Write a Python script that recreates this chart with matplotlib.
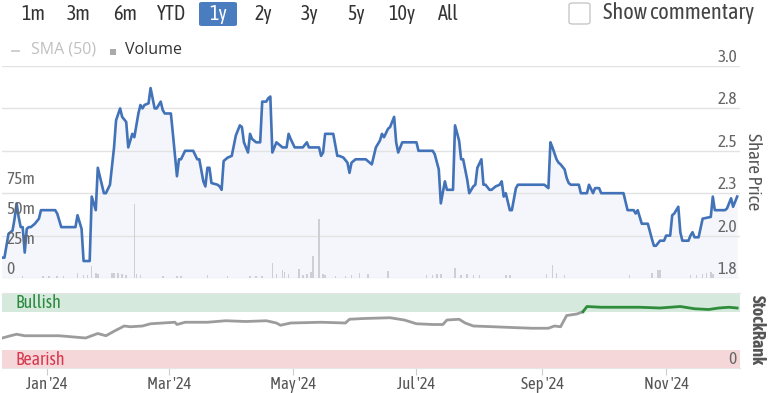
import numpy as np
import matplotlib
matplotlib.use('Agg')
import matplotlib.pyplot as plt
import matplotlib.dates as mdates
from matplotlib.patches import FancyBboxPatch, Rectangle
from matplotlib.lines import Line2D

plt.rcParams['font.family'] = ['Asap Condensed', 'DejaVu Sans']

BASE = np.datetime64('2024-01-01')

# ---- data (day offsets from 2024-01-01) ----
price_days = [-23, -21, -19, -17, -16, -15, -14, -13, -12, -11, -10, -9, -8, -6, -4, -3, 4, 5, 7, 14,
              15, 17, 18, 21, 22, 24, 25, 26, 28, 29, 31, 33, 34, 36, 37, 39, 40, 42, 43, 45,
              46, 47, 48, 50, 51, 53, 54, 56, 57, 58, 61, 62, 64, 65, 66, 68, 72, 74, 75, 77,
              78, 79, 80, 81, 84, 85, 86, 87, 89, 91, 93, 95, 96, 97, 99, 100, 101, 103, 105, 106,
              108, 109, 110, 111, 112, 113, 115, 116, 118, 119, 120, 122, 126, 128, 129, 134, 135, 136, 137, 141,
              143, 144, 146, 148, 149, 150, 152, 157, 159, 160, 162, 164, 165, 166, 168, 169, 171, 172, 173, 175,
              182, 183, 190, 191, 193, 194, 196, 197, 200, 201, 203, 204, 205, 207, 208, 210, 211, 212, 214, 215,
              216, 218, 219, 221, 223, 224, 225, 226, 227, 228, 229, 231, 232, 245, 247, 248, 249, 251, 252, 253,
              255, 256, 257, 258, 262, 263, 266, 267, 269, 270, 272, 273, 284, 286, 289, 290, 291, 293, 296, 298,
              299, 300, 302, 304, 305, 307, 308, 309, 311, 312, 313, 316, 317, 318, 319, 321, 323, 327, 328, 329,
              334, 335, 337, 338, 340]
price_vals = [1.87, 1.87, 2.01, 2.03, 2.10, 2.19, 2.11, 2.05, 2.05, 1.90, 2.04, 2.05, 2.05, 2.07, 2.10, 2.15, 2.15, 2.13, 2.05, 2.05,
              2.12, 2.04, 1.85, 1.85, 2.23, 2.15, 2.40, 2.35, 2.25, 2.25, 2.30, 2.52, 2.68, 2.75, 2.70, 2.67, 2.52, 2.60, 2.58, 2.72,
              2.77, 2.75, 2.77, 2.78, 2.87, 2.75, 2.75, 2.79, 2.74, 2.72, 2.72, 2.60, 2.35, 2.45, 2.45, 2.50, 2.50, 2.45, 2.45, 2.32,
              2.29, 2.40, 2.40, 2.31, 2.30, 2.29, 2.27, 2.44, 2.46, 2.47, 2.59, 2.65, 2.64, 2.55, 2.49, 2.60, 2.57, 2.55, 2.55, 2.79,
              2.79, 2.81, 2.82, 2.49, 2.52, 2.55, 2.53, 2.52, 2.52, 2.60, 2.57, 2.52, 2.52, 2.55, 2.52, 2.52, 2.47, 2.49, 2.60, 2.60,
              2.47, 2.47, 2.46, 2.43, 2.37, 2.43, 2.45, 2.45, 2.43, 2.42, 2.52, 2.56, 2.60, 2.58, 2.63, 2.64, 2.70, 2.55, 2.49, 2.55,
              2.55, 2.50, 2.50, 2.48, 2.39, 2.19, 2.32, 2.27, 2.27, 2.65, 2.56, 2.45, 2.45, 2.33, 2.25, 2.29, 2.30, 2.40, 2.45, 2.30,
              2.30, 2.27, 2.27, 2.29, 2.30, 2.32, 2.23, 2.25, 2.20, 2.15, 2.15, 2.28, 2.30, 2.30, 2.28, 2.55, 2.52, 2.45, 2.43, 2.42,
              2.39, 2.34, 2.31, 2.30, 2.30, 2.25, 2.25, 2.30, 2.25, 2.28, 2.28, 2.25, 2.25, 2.15, 2.15, 2.13, 2.15, 2.07, 2.07, 1.98,
              1.94, 1.94, 1.97, 1.97, 2.00, 2.00, 2.12, 2.13, 2.17, 2.02, 1.97, 1.97, 2.00, 2.02, 1.99, 1.99, 2.10, 2.11, 2.23, 2.15,
              2.15, 2.16, 2.22, 2.17, 2.23]

vol_days = [-12, -2, 1, 5, 8, 15, 18, 20, 22, 24, 25, 32, 33, 35, 37, 39, 43, 44, 46, 57,
            64, 66, 79, 89, 100, 103, 106, 111, 113, 116, 117, 119, 124, 126, 128, 130, 131, 134, 136, 137,
            142, 147, 150, 154, 158, 168, 187, 190, 192, 194, 201, 204, 207, 210, 213, 226, 228, 246, 249, 251,
            255, 287, 298, 301, 302, 317, 320, 323, 325, 327, 328]
vol_vals = [1.7, 1.7, 1.7, 1.7, 1.7, 4.2, 2.5, 2.5, 10.0, 4.2, 3.3, 4.2, 4.2, 4.2, 3.3, 2.5, 62.0, 3.3, 2.5, 1.7,
            1.7, 1.7, 2.5, 1.7, 1.7, 1.7, 1.7, 12.5, 3.3, 6.7, 5.0, 3.3, 7.5, 2.5, 3.3, 5.0, 18.0, 49.0, 3.3, 2.5,
            1.7, 1.7, 2.5, 4.2, 3.3, 5.8, 2.5, 2.5, 3.3, 3.3, 8.3, 2.5, 3.3, 2.5, 2.5, 2.5, 2.5, 3.3, 10.8, 4.2,
            2.5, 2.5, 4.2, 6.7, 6.7, 2.5, 2.5, 3.3, 4.2, 5.0, 3.3]  # millions

rank_days = [-22, -18, -15, -11, -4, 6, 19, 23, 25, 29, 33, 38, 41, 47, 51, 57, 63, 64, 68, 79,
             88, 98, 108, 113, 115, 120, 135, 147, 149, 156, 169, 176, 182, 190, 195, 197, 203, 206, 210, 220,
             229, 239, 247, 250, 253, 256, 261, 264, 266, 273, 280, 292, 302, 312, 319, 326, 331, 336, 340]
rank_vals = [40, 43, 45, 43, 43, 43, 40, 44, 46, 43, 49, 56, 55, 56, 59, 60, 61, 58, 61, 61,
             63, 62, 63, 60, 57, 60, 61, 60, 65, 66, 67, 64, 59, 58, 58, 64, 65, 60, 56, 55,
             54, 53, 53, 56, 55, 70, 72, 75, 82, 81, 81, 81, 80, 82, 79, 78, 80, 81, 80]
bullish_from_day = 264

price_ticks = [1.75, 2.0, 2.25, 2.5, 2.75, 3.0]
price_tick_labels = ['1.8', '2.0', '2.3', '2.5', '2.8', '3.0']
vol_ticks = [0, 25, 50, 75]
vol_tick_labels = ['0', '25m', '50m', '75m']
month_ticks = ['2024-01-01', '2024-03-01', '2024-05-01', '2024-07-01', '2024-09-01', '2024-11-01']
month_labels = ["Jan '24", "Mar '24", "May '24", "Jul '24", "Sep '24", "Nov '24"]
range_buttons = ['1m', '3m', '6m', 'YTD', '1y', '2y', '3y', '5y', '10y', 'All']
active_button = '1y'


def to_dates(days):
    return BASE + np.array(days, dtype='timedelta64[D]')


W, H = 768, 393
fig = plt.figure(figsize=(W / 100, H / 100), dpi=100)
fig.patch.set_facecolor('white')


def fx(px):
    return px / W


def fy(py):
    return 1 - py / H


left_px, right_px = 2, 740
x0 = mdates.date2num(BASE) - 22.2
x1 = mdates.date2num(BASE) + 341.4

# ---- price axes ----
ax = fig.add_axes([fx(left_px), fy(278), fx(right_px - left_px), (278 - 66) / H])
pdates = to_dates(price_days)
ax.fill_between(pdates, price_vals, 1.75, color='#f4f6fb', lw=0, zorder=1)
ax.plot(pdates, price_vals, color='#4272b8', lw=1.9, zorder=3, solid_joinstyle='round')
ax.set_xlim(x0, x1)
ax.set_ylim(1.75, 3.0)
ax.set_yticks(price_ticks)
ax.set_yticklabels(price_tick_labels)
ax.yaxis.tick_right()
ax.tick_params(axis='y', length=0, pad=-2, labelsize=12.5, colors='#666666')
for lab in ax.get_yticklabels():
    lab.set_ha('right')
    lab.set_va('bottom')
ax.grid(axis='y', color='#e3e3e3', lw=1, zorder=1.5)
ax.set_xticks([])
for s in ax.spines.values():
    s.set_visible(False)

# ---- volume axes (overlay) ----
axv = fig.add_axes(ax.get_position(), sharex=ax)
axv.patch.set_alpha(0)
axv.bar(to_dates(vol_days), vol_vals, width=0.75, color='#cdced6', lw=0, zorder=2)
axv.set_ylim(0, 176.7)
axv.set_yticks(vol_ticks)
axv.set_yticklabels(vol_tick_labels)
axv.tick_params(axis='y', length=0, pad=-3, labelsize=12.5, colors='#666666')
for lab in axv.get_yticklabels():
    lab.set_ha('left')
    lab.set_va('bottom')
axv.tick_params(axis='x', bottom=False, labelbottom=False)
for s in axv.spines.values():
    s.set_visible(False)
axv.set_xlim(x0, x1)

fig.text(fx(753), fy(172), 'Share Price', rotation=-90, ha='center', va='center',
         fontsize=13.5, color='#555555')

# ---- StockRank axes ----
axr = fig.add_axes([fx(left_px), fy(368), fx(right_px - left_px), (368 - 293) / H])
axr.axhspan(75, 100, color='#d5eadc', lw=0, zorder=0)
axr.axhspan(0, 24, color='#f5d7da', lw=0, zorder=0)
rdates = to_dates(rank_days)
rd = np.array(rank_days)
rv = np.array(rank_vals)
gray_mask = rd <= bullish_from_day
axr.plot(rdates[gray_mask], rv[gray_mask], color='#9c9c9c', lw=2.0, zorder=2)
green_mask = rd >= bullish_from_day
axr.plot(rdates[green_mask], rv[green_mask], color='#2e8c3b', lw=2.0, zorder=3)
axr.set_ylim(0, 100)
axr.set_xlim(x0, x1)
axr.set_yticks([])
axr.set_xticks(np.array(month_ticks, dtype='datetime64[D]'))
axr.set_xticklabels(month_labels)
axr.tick_params(axis='x', length=5, color='#cccccc', pad=1, labelsize=12, labelcolor='#555555')
for k, s in axr.spines.items():
    if k in ('left', 'right'):
        s.set_visible(False)
    else:
        s.set_color('#e6e6e6')
axr.text(0.018, 87, 'Bullish', transform=axr.get_yaxis_transform(), ha='left', va='center',
         fontsize=13, color='#2b8a3e')
axr.text(0.018, 11, 'Bearish', transform=axr.get_yaxis_transform(), ha='left', va='center',
         fontsize=13, color='#d63a4f')
axr.text(0.995, 11, '0', transform=axr.get_yaxis_transform(), ha='right', va='center',
         fontsize=12.5, color='#666666')
fig.text(fx(757), fy(330), 'StockRank', rotation=-90, ha='center', va='center',
         fontsize=13, color='#555555', fontweight='bold')

# ---- top range buttons ----
btn_centers = [33, 79, 125, 171, 218, 263, 310, 356, 402, 448]
for lbl, cx in zip(range_buttons, btn_centers):
    if lbl == active_button:
        fig.patches.append(FancyBboxPatch((fx(cx - 19), fy(26)), fx(38), 24 / H,
                                          boxstyle='round,pad=0,rounding_size=0.004',
                                          transform=fig.transFigure, fc='#4a7cc0', ec='none'))
        col = 'white'
    else:
        col = '#333333'
    fig.text(fx(cx), fy(13.5), lbl, ha='center', va='center', fontsize=14.5, color=col)

fig.patches.append(FancyBboxPatch((fx(569), fy(24)), fx(21), 21 / H,
                                  boxstyle='round,pad=0,rounding_size=0.005',
                                  transform=fig.transFigure, fc='white', ec='#c8c8c8', lw=1))
fig.text(fx(603), fy(13.5), 'Show commentary', ha='left', va='center', fontsize=16, color='#444444')

# ---- legend row ----
fig.lines.append(Line2D([fx(12), fx(19)], [fy(51), fy(51)], transform=fig.transFigure,
                        color='#cccccc', lw=1.3))
fig.text(fx(31), fy(50), 'SMA (50)', ha='left', va='center', fontsize=11.5, color='#c0c0c0',
         family=['Open Sans', 'DejaVu Sans'])
fig.patches.append(Rectangle((fx(110), fy(55)), fx(6), 6 / H, transform=fig.transFigure,
                             fc='#aaaaaa', ec='none'))
fig.text(fx(125), fy(50), 'Volume', ha='left', va='center', fontsize=11.5, color='#333333',
         family=['Open Sans', 'DejaVu Sans'])

fig.savefig('out.png', dpi=100)
